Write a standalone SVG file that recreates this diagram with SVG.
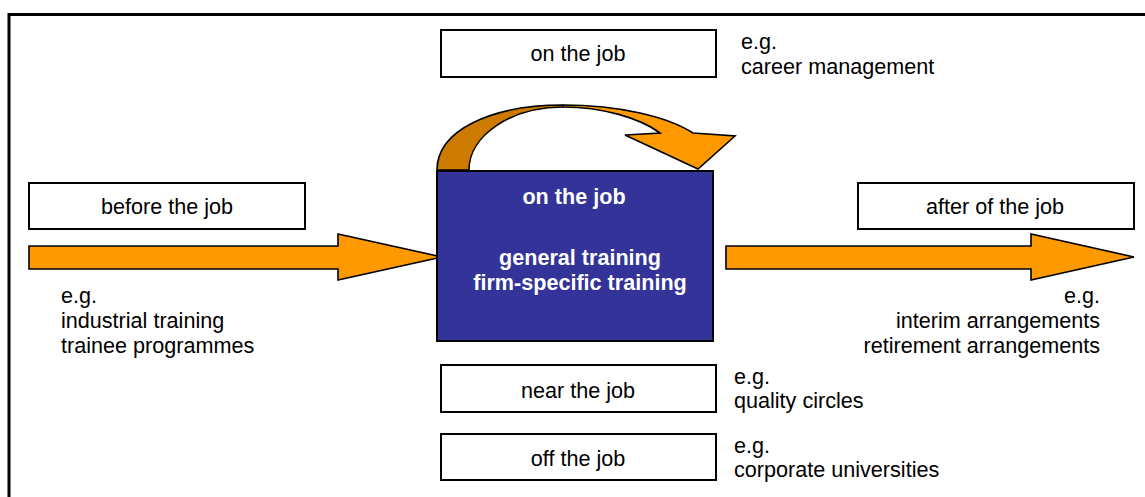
<svg xmlns="http://www.w3.org/2000/svg" width="1145" height="497" viewBox="0 0 1145 497">
<style>
.box{fill:#fff;stroke:#000;stroke-width:2}
.lbl{font-family:"Liberation Sans",Arial,sans-serif;font-size:21.6px;fill:#000}
.c{text-anchor:middle}
.e{text-anchor:end}
.w{font-family:"Liberation Sans",Arial,sans-serif;font-size:21.6px;font-weight:bold;fill:#fff;text-anchor:middle}
.arr{fill:#FF9900;stroke:#000;stroke-width:1.6;stroke-linejoin:miter}
</style>
<rect width="1145" height="497" fill="#fff"/>
<path d="M9,497 V14.5 H1145" fill="none" stroke="#000" stroke-width="3"/>

<g id="connectors">
  <path class="arr" d="M29,246 H338 V234 L442,257 L338,280 V269 H29 Z"/>
  <path class="arr" d="M726,246 H1031 V234 L1134,257 L1031,280 V269 H726 Z"/>
  <g id="curved-arrow">
    <path d="M437,170 C437,130 492,105 563,105 L563,107 C512,107 469,135 469,170 Z" fill="#CC7A00" stroke="#000" stroke-width="1.6" stroke-linejoin="round"/>
    <path d="M563,105 C620,105 668,117 693,133 L735,136 L698,169 L625,135 L660,133 C640,118 602,107 563,107 Z" fill="#FF9900" stroke="#000" stroke-width="1.6" stroke-linejoin="miter"/>
  </g>
</g>

<g id="center">
  <rect x="437" y="171" width="276" height="170" fill="#333399" stroke="#000" stroke-width="2"/>
  <text class="w" x="574" y="204">on the job</text>
  <text class="w" x="580" y="265">general training</text>
  <text class="w" x="580" y="290">firm-specific training</text>
</g>

<g id="before">
  <rect class="box" x="29" y="183" width="276" height="46"/>
  <text class="lbl c" x="167" y="214">before the job</text>
  <text class="lbl" x="61" y="303">e.g.</text>
  <text class="lbl" x="61" y="328">industrial training</text>
  <text class="lbl" x="61" y="353">trainee programmes</text>
</g>

<g id="after">
  <rect class="box" x="858" y="183" width="276" height="46"/>
  <text class="lbl c" x="995" y="214">after of the job</text>
  <text class="lbl e" x="1100" y="303">e.g.</text>
  <text class="lbl e" x="1100" y="328">interim arrangements</text>
  <text class="lbl e" x="1100" y="353">retirement arrangements</text>
</g>

<g id="on-job">
  <rect class="box" x="441" y="30" width="275" height="47"/>
  <text class="lbl c" x="578" y="61">on the job</text>
  <text class="lbl" x="741" y="49">e.g.</text>
  <text class="lbl" x="741" y="74">career management</text>
</g>

<g id="near-job">
  <rect class="box" x="441" y="365" width="275" height="47"/>
  <text class="lbl c" x="578" y="398">near the job</text>
  <text class="lbl" x="734" y="384">e.g.</text>
  <text class="lbl" x="734" y="408">quality circles</text>
</g>

<g id="off-job">
  <rect class="box" x="441" y="434" width="275" height="46"/>
  <text class="lbl c" x="578" y="466">off the job</text>
  <text class="lbl" x="734" y="453">e.g.</text>
  <text class="lbl" x="734" y="477">corporate universities</text>
</g>
</svg>
